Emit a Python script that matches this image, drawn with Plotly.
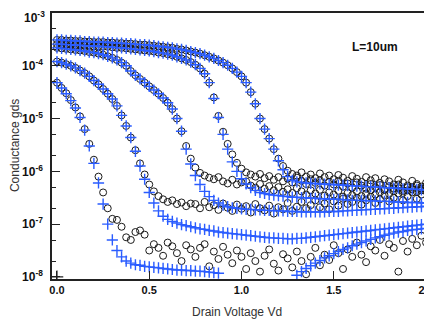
import plotly.graph_objects as go

# Drain voltage sweep (V)
vd = [0.0, 0.025, 0.05, 0.075, 0.1, 0.125, 0.15, 0.175, 0.2, 0.225,
      0.25, 0.275, 0.3, 0.325, 0.35, 0.375, 0.4, 0.425, 0.45, 0.475,
      0.5, 0.525, 0.55, 0.575, 0.6, 0.625, 0.65, 0.675, 0.7, 0.725,
      0.75, 0.775, 0.8, 0.825, 0.85, 0.875, 0.9, 0.925, 0.95, 0.975,
      1.0, 1.025, 1.05, 1.075, 1.1, 1.125, 1.15, 1.175, 1.2, 1.225,
      1.25, 1.275, 1.3, 1.325, 1.35, 1.375, 1.4, 1.425, 1.45, 1.475,
      1.5, 1.525, 1.55, 1.575, 1.6, 1.625, 1.65, 1.675, 1.7, 1.725,
      1.75, 1.775, 1.8, 1.825, 1.85, 1.875, 1.9, 1.925, 1.95, 1.975, 2.0]

a_meas = [-3.51,-3.51,-3.52,-3.52,-3.53,-3.53,-3.54,-3.54,-3.55,-3.55,
          -3.55,-3.56,-3.56,-3.57,-3.57,-3.58,-3.58,-3.59,-3.60,-3.60,
          -3.61,-3.62,-3.63,-3.64,-3.65,-3.66,-3.68,-3.69,-3.71,-3.73,
          -3.75,-3.77,-3.80,-3.83,-3.86,-3.90,-3.94,-3.99,-4.05,-4.12,
          -4.20,-4.32,-4.50,-4.72,-5.00,-5.20,-5.38,-5.58,-5.76,-5.90,
          -5.99,-6.05,-6.08,-6.02,-6.10,-6.06,-6.13,-6.04,-6.11,-6.08,
          -6.15,-6.07,-6.12,-6.18,-6.09,-6.14,-6.20,-6.11,-6.17,-6.13,
          -6.22,-6.15,-6.19,-6.25,-6.16,-6.21,-6.27,-6.18,-6.24,-6.29,-6.22]
a_sim = [-3.51,-3.51,-3.52,-3.52,-3.53,-3.53,-3.54,-3.54,-3.55,-3.55,
         -3.55,-3.56,-3.56,-3.57,-3.57,-3.58,-3.58,-3.59,-3.60,-3.60,
         -3.61,-3.62,-3.63,-3.64,-3.65,-3.66,-3.68,-3.69,-3.71,-3.73,
         -3.75,-3.77,-3.80,-3.83,-3.86,-3.90,-3.94,-3.99,-4.05,-4.12,
         -4.20,-4.32,-4.50,-4.72,-5.00,-5.20,-5.38,-5.58,-5.80,-5.97,
         -6.10,-6.17,-6.20,-6.21,-6.22,-6.23,-6.23,-6.24,-6.24,-6.25,
         -6.25,-6.26,-6.26,-6.27,-6.27,-6.28,-6.28,-6.29,-6.29,-6.30,
         -6.30,-6.31,-6.31,-6.32,-6.32,-6.33,-6.33,-6.34,-6.34,-6.35,-6.35]
b2_meas = [-3.59,-3.59,-3.60,-3.60,-3.61,-3.61,-3.62,-3.62,-3.63,-3.63,
           -3.64,-3.64,-3.65,-3.66,-3.66,-3.67,-3.68,-3.69,-3.70,-3.71,
           -3.72,-3.73,-3.75,-3.76,-3.78,-3.80,-3.83,-3.86,-3.89,-3.93,
           -3.98,-4.05,-4.15,-4.32,-4.60,-4.95,-5.25,-5.48,-5.68,-5.84,
           -5.95,-6.02,-6.06,-6.10,-6.05,-6.13,-6.09,-6.16,-6.11,-6.19,
           -6.14,-6.21,-6.12,-6.18,-6.24,-6.15,-6.22,-6.17,-6.27,-6.20,
           -6.25,-6.18,-6.29,-6.23,-6.31,-6.21,-6.27,-6.33,-6.24,-6.30,
           -6.26,-6.35,-6.28,-6.32,-6.25,-6.37,-6.30,-6.34,-6.27,-6.36,-6.31]
b2_sim = [-3.59,-3.59,-3.60,-3.60,-3.61,-3.61,-3.62,-3.62,-3.63,-3.63,
          -3.64,-3.64,-3.65,-3.66,-3.66,-3.67,-3.68,-3.69,-3.70,-3.71,
          -3.72,-3.73,-3.75,-3.76,-3.78,-3.80,-3.83,-3.86,-3.89,-3.93,
          -3.98,-4.05,-4.15,-4.32,-4.62,-4.98,-5.30,-5.58,-5.82,-6.00,
          -6.14,-6.24,-6.31,-6.36,-6.40,-6.42,-6.44,-6.45,-6.46,-6.47,
          -6.48,-6.49,-6.49,-6.50,-6.50,-6.51,-6.51,-6.52,-6.52,-6.53,
          -6.53,-6.53,-6.54,-6.54,-6.55,-6.55,-6.55,-6.56,-6.56,-6.56,
          -6.57,-6.57,-6.57,-6.58,-6.58,-6.58,-6.59,-6.59,-6.59,-6.60,-6.60]
b1_meas = [-3.66,-3.67,-3.68,-3.69,-3.70,-3.71,-3.72,-3.74,-3.75,-3.77,
           -3.79,-3.82,-3.85,-3.89,-3.94,-4.00,-4.10,-4.18,-4.25,-4.32,
           -4.39,-4.46,-4.53,-4.61,-4.70,-4.82,-5.00,-5.24,-5.52,-5.76,
           -5.93,-6.03,-6.08,-6.12,-6.15,-6.11,-6.19,-6.23,-6.16,-6.25,
           -6.21,-6.19,-6.27,-6.31,-6.24,-6.33,-6.28,-6.36,-6.30,-6.39,
           -6.34,-6.41,-6.32,-6.38,-6.44,-6.36,-6.42,-6.35,-6.46,-6.40,
           -6.44,-6.37,-6.48,-6.41,-6.45,-6.38,-6.47,-6.42,-6.36,-6.44,
           -6.40,-6.35,-6.43,-6.38,-6.32,-6.41,-6.36,-6.30,-6.39,-6.33,-6.28]
b1_sim = [-3.66,-3.67,-3.68,-3.69,-3.70,-3.71,-3.72,-3.74,-3.75,-3.77,
          -3.79,-3.82,-3.85,-3.89,-3.94,-4.00,-4.10,-4.18,-4.25,-4.32,
          -4.39,-4.46,-4.53,-4.61,-4.70,-4.82,-5.00,-5.24,-5.58,-5.86,
          -6.08,-6.25,-6.38,-6.48,-6.55,-6.60,-6.64,-6.67,-6.69,-6.70,
          -6.71,-6.72,-6.72,-6.73,-6.73,-6.74,-6.74,-6.75,-6.75,-6.75,
          -6.76,-6.76,-6.76,-6.77,-6.77,-6.77,-6.77,-6.77,-6.77,-6.76,
          -6.76,-6.76,-6.75,-6.75,-6.74,-6.74,-6.73,-6.73,-6.72,-6.72,
          -6.71,-6.71,-6.70,-6.70,-6.69,-6.69,-6.68,-6.68,-6.67,-6.67,-6.66]
c_meas = [-3.92,-3.94,-3.97,-4.00,-4.04,-4.09,-4.14,-4.20,-4.28,-4.35,
          -4.44,-4.53,-4.63,-4.76,-4.94,-5.14,-5.36,-5.60,-5.85,-6.06,
          -6.25,-6.38,-6.47,-6.53,-6.58,-6.55,-6.62,-6.59,-6.66,-6.61,
          -6.62,-6.70,-6.58,-6.68,-6.64,-6.73,-6.61,-6.69,-6.75,-6.63,
          -6.71,-6.66,-6.78,-6.62,-6.70,-6.74,-6.65,-6.80,-6.68,-6.72,
          -6.60,-6.75,-6.67,-6.58,-6.70,-6.64,-6.55,-6.68,-6.61,-6.72,
          -6.57,-6.65,-6.52,-6.62,-6.58,-6.50,-6.63,-6.55,-6.48,-6.60,
          -6.53,-6.45,-6.57,-6.50,-6.42,-6.55,-6.47,-6.40,-6.52,-6.44,-6.38]
c_sim = [-3.92,-3.94,-3.97,-4.00,-4.04,-4.09,-4.14,-4.20,-4.28,-4.35,
         -4.44,-4.53,-4.63,-4.76,-4.94,-5.14,-5.36,-5.62,-5.90,-6.15,
         -6.40,-6.60,-6.75,-6.85,-6.91,-6.95,-6.98,-7.01,-7.03,-7.05,
         -7.07,-7.09,-7.10,-7.12,-7.13,-7.15,-7.16,-7.17,-7.18,-7.19,
         -7.20,-7.21,-7.22,-7.23,-7.24,-7.25,-7.26,-7.26,-7.27,-7.27,
         -7.28,-7.28,-7.27,-7.27,-7.26,-7.25,-7.24,-7.23,-7.22,-7.21,
         -7.20,-7.19,-7.18,-7.17,-7.16,-7.15,-7.14,-7.13,-7.12,-7.11,
         -7.10,-7.09,-7.08,-7.07,-7.06,-7.05,-7.04,-7.03,-7.02,-7.01,-7.00]
d_meas = [-4.32,-4.42,-4.52,-4.65,-4.79,-4.96,-5.20,-5.48,-5.78,-6.10,
          -6.40,-6.70,-6.90,-6.92,-7.05,-7.25,-7.30,-7.15,-7.12,-7.20,
          -7.50,-7.38,-7.45,-7.60,-7.35,-7.42,-7.55,-7.70,-7.40,-7.48,
          -7.62,-7.45,-7.38,-7.80,-7.52,-7.66,-7.43,-7.58,-7.74,-7.50,
          -7.62,-7.85,-7.55,-7.70,-7.90,-7.60,-7.48,-7.75,-7.88,-7.57,
          -7.65,-7.82,-7.52,-7.70,-7.95,-7.62,-7.45,-7.78,-7.58,-7.68,
          -7.40,-7.55,-7.85,-7.48,-7.62,-7.35,-7.58,-7.72,-7.42,-7.50,
          -7.30,-7.60,-7.38,-7.45,-7.90,-7.32,-7.52,-7.28,-7.40,-7.22,-7.35]
d_sim = [-4.32,-4.42,-4.53,-4.66,-4.80,-4.98,-5.22,-5.52,-5.85,-6.22,
         -6.62,-7.00,-7.30,-7.50,-7.62,-7.70,-7.74,-7.77,-7.78,-7.80,
         -7.81,-7.82,-7.83,-7.84,-7.85,-7.86,-7.87,-7.87,-7.88,-7.88,
         -7.89,-7.89,-7.90,-7.91,-7.92,-7.93,None,None,None,None,
         None,None,None,None,None,None,None,None,None,None,
         None,None,-7.97,-7.90,-7.84,-7.79,-7.74,-7.69,-7.64,-7.60,
         -7.56,-7.52,-7.48,-7.45,-7.41,-7.38,-7.35,-7.32,-7.29,-7.26,
         -7.24,-7.21,-7.19,-7.17,-7.15,-7.14,-7.12,-7.11,-7.10,-7.09,-7.08]
e_sim_vd = [0.0]
e_sim = [-8.0]

y_ticks = [-8, -7, -6, -5, -4, -3]
y_ticktext = ["<b>10</b><sup><b>-8</b></sup>", "<b>10</b><sup><b>-7</b></sup>",
              "<b>10</b><sup><b>-6</b></sup>", "<b>10</b><sup><b>-5</b></sup>",
              "<b>10</b><sup><b>-4</b></sup>", ""]
top_tick_label = "<b>10</b><sup><b>-3</b></sup>"
x_ticks = [0.0, 0.5, 1.0, 1.5, 2.0]
x_ticktext = ["<b>0.0</b>", "<b>0.5</b>", "<b>1.0</b>", "<b>1.5</b>", "<b>2.0</b>"]


def lin(vals):
    return [None if v is None else 10 ** v for v in vals]


fig = go.Figure()
circ = dict(symbol="circle-open", size=7, color="#1a1a1a", line=dict(width=1, color="#1a1a1a"))
cross = dict(symbol="cross-thin-open", size=8, color="#2a5cff", line=dict(width=1.4, color="#2a5cff"))

for series in (a_meas, b2_meas, b1_meas, c_meas, d_meas):
    fig.add_trace(go.Scatter(x=vd, y=lin(series), mode="markers", marker=circ, showlegend=False))
for series in (a_sim, b2_sim, b1_sim, c_sim, d_sim):
    fig.add_trace(go.Scatter(x=vd, y=lin(series), mode="markers", marker=cross, showlegend=False))
fig.add_trace(go.Scatter(x=e_sim_vd, y=lin(e_sim), mode="markers",
                         marker=dict(symbol="cross-thin-open", size=9, color="#222222",
                                     line=dict(width=1.2, color="#222222")), showlegend=False))

fig.add_annotation(text="<b>L=10um</b>", x=0.857, y=0.872, xref="paper", yref="paper",
                   xanchor="center", yanchor="middle",
                   showarrow=False, font=dict(family="Liberation Sans", size=12, color="#111111"))
fig.add_annotation(text="Drain Voltage Vd", x=0.49, y=-0.124, xref="paper", yref="paper",
                   xanchor="center", yanchor="middle",
                   showarrow=False, font=dict(family="Liberation Sans", size=12, color="#333333"))
fig.add_annotation(text="Conductance gds", x=-0.098, y=0.5, xref="paper", yref="paper",
                   xanchor="center", yanchor="middle", textangle=-90,
                   showarrow=False, font=dict(family="Liberation Sans", size=12, color="#333333"))
# top decade label, nudged down so it stays inside the page like the reference
fig.add_annotation(text=top_tick_label, x=-0.016, y=1.0185, xref="paper", yref="paper",
                   xanchor="right", yanchor="top", borderpad=0,
                   showarrow=False, font=dict(family="Liberation Sans", size=12, color="#111111"))

# The page body adds an 8px offset, so the figure is sized/margined to land the plot box
# at the reference position inside the 432x322 window.
fig.update_layout(
    width=424, height=314,
    margin=dict(l=44, r=3, t=5, b=43),
    paper_bgcolor="white", plot_bgcolor="white",
    font=dict(family="Liberation Sans", color="#111111"),
    xaxis=dict(range=[-0.027, 2.016], tickvals=x_ticks, ticktext=x_ticktext,
               ticks="inside", ticklen=8, tickwidth=1, tickcolor="#222",
               showline=True, linecolor="#222", linewidth=1.5, mirror=True,
               showgrid=False, zeroline=False, tickfont=dict(size=11), automargin=False,
               ticklabeloverflow="allow"),
    yaxis=dict(type="log", range=[-8.04, -3.0], tickvals=[10 ** t for t in y_ticks], ticktext=y_ticktext,
               ticks="inside", ticklen=8, tickwidth=1, tickcolor="#222",
               minor=dict(ticks="inside", ticklen=4, tickcolor="#222", showgrid=False),
               showline=True, linecolor="#222", linewidth=1.5, mirror=True,
               showgrid=False, zeroline=False, tickfont=dict(size=12), ticklabelstandoff=5,
               automargin=False, ticklabeloverflow="allow"),
)

fig.write_html("out.html")
